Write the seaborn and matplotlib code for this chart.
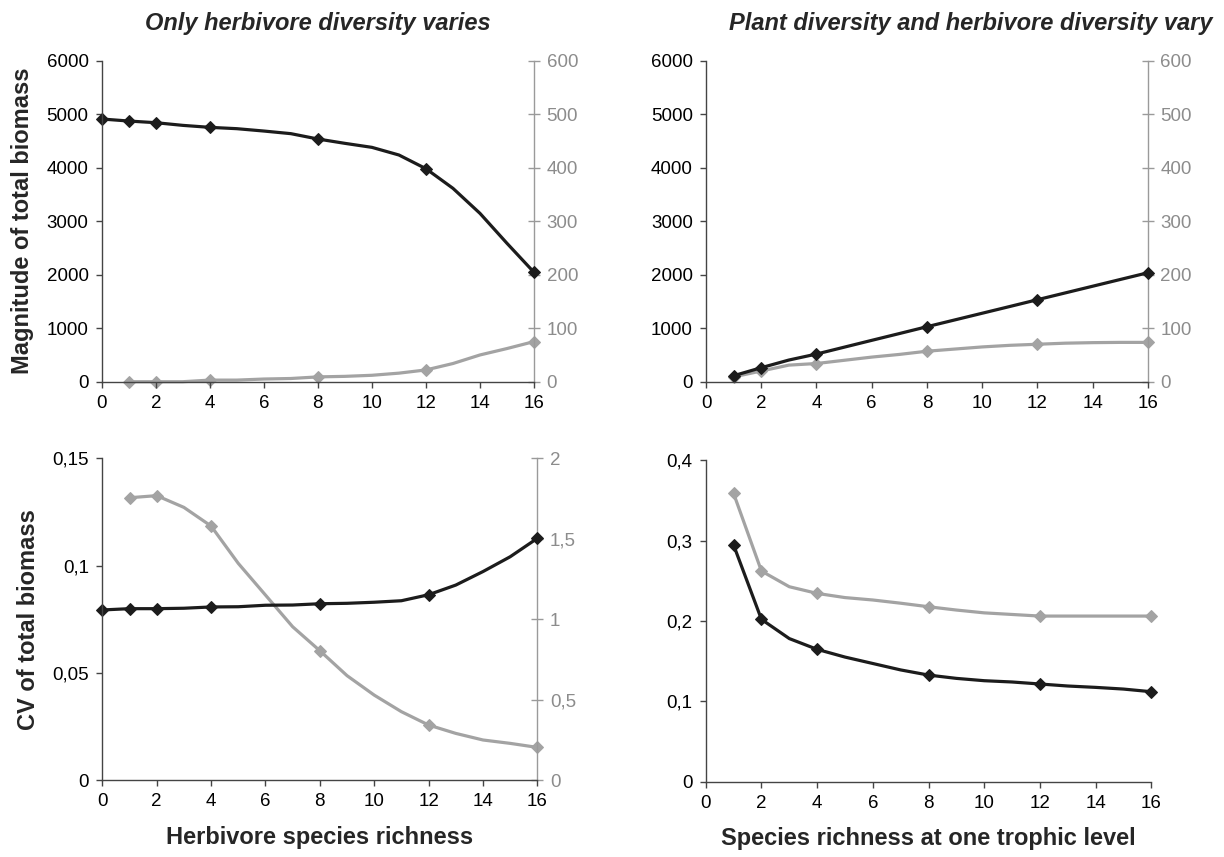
import matplotlib
matplotlib.use("Agg")
import matplotlib.pyplot as plt
import seaborn as sns
import numpy as np
import pandas as pd

sns.set_theme(style="white")
plt.rcParams['font.family'] = ['Liberation Sans', 'DejaVu Sans']

# ---------------- data ----------------
# Top-left: only herbivore diversity varies
tl_black_x = list(range(0, 17))
tl_black_y = [4910, 4872, 4841, 4791, 4754, 4729, 4685, 4636, 4536, 4455, 4380,
              4237, 3981, 3614, 3146, 2586, 2044]
tl_black_marks = [0, 1, 2, 4, 8, 12, 16]
tl_grey_x = list(range(1, 17))
tl_grey_y = [0, 0, 0, 3, 3, 5, 6, 9, 10, 12, 16, 22, 34, 50, 62, 75]
tl_grey_marks = [1, 2, 4, 8, 12, 16]

# Top-right: plant and herbivore diversity vary
tr_black_x = list(range(1, 17))
tr_black_y = [112, 262, 405, 517, 645, 773, 900, 1028, 1154, 1280, 1406, 1533,
              1659, 1785, 1911, 2037]
tr_black_marks = [1, 2, 4, 8, 12, 16]
tr_grey_x = list(range(1, 17))
tr_grey_y = [9, 20, 31, 34, 40, 46, 51, 57, 61, 65, 68, 70, 72, 73, 73.5, 73.5]
tr_grey_marks = [1, 2, 4, 8, 12, 16]

# Bottom-left: CV, only herbivore diversity varies
bl_black_x = list(range(0, 17))
bl_black_y = [0.0793, 0.0799, 0.0799, 0.0801, 0.0807, 0.0808, 0.0815, 0.0816,
              0.0822, 0.0824, 0.0829, 0.0836, 0.0864, 0.0909, 0.0972, 0.1041, 0.1127]
bl_black_marks = [0, 1, 2, 4, 8, 12, 16]
bl_grey_x = list(range(1, 17))
bl_grey_y = [1.755, 1.768, 1.695, 1.579, 1.347, 1.150, 0.953, 0.804, 0.649,
             0.528, 0.425, 0.342, 0.290, 0.249, 0.228, 0.203]
bl_grey_marks = [1, 2, 4, 8, 12, 16]

# Bottom-right: CV, plant and herbivore diversity vary
br_black_x = list(range(1, 17))
br_black_y = [0.2943, 0.2019, 0.178, 0.1646, 0.155, 0.147, 0.139, 0.1326, 0.1285,
              0.1256, 0.124, 0.1215, 0.119, 0.1173, 0.1152, 0.1119]
br_black_marks = [1, 2, 4, 8, 12, 16]
br_grey_x = list(range(1, 17))
br_grey_y = [0.3585, 0.262, 0.2425, 0.2342, 0.229, 0.226, 0.222, 0.2176, 0.2135,
             0.210, 0.208, 0.206, 0.206, 0.206, 0.206, 0.206]
br_grey_marks = [1, 2, 4, 8, 12, 16]

titles = ["Only herbivore diversity varies", "Plant diversity and herbivore diversity vary"]
ylabels = ["Magnitude of total biomass", "CV of total biomass"]
xlabels = ["Herbivore species richness", "Species richness at one trophic level"]

BLACK = "#1c1c1c"
GREY = "#a3a3a3"
SPINE = "#444444"
RSPINE = "#9a9a9a"
FS = 13.5
LFS = 17

fig = plt.figure(figsize=(12.24, 8.57), dpi=100)
pos = {
    "tl": [0.0831, 0.5546, 0.3532, 0.3746],
    "tr": [0.5768, 0.5546, 0.3611, 0.3746],
    "bl": [0.0836, 0.0898, 0.3554, 0.3754],
    "br": [0.5766, 0.0879, 0.3640, 0.3752],
}


def comma(v):
    return ("%g" % v).replace(".", ",")


def draw(ax, x, y, marks, color):
    idx = [x.index(m) for m in marks]
    df = pd.DataFrame({"x": x, "y": y})
    sns.lineplot(data=df, x="x", y="y", ax=ax, color=color, lw=2.3,
                 marker="D", markersize=6.5, markevery=idx, markeredgecolor=color,
                 markerfacecolor=color, solid_joinstyle="round", clip_on=False,
                 legend=False)
    ax.set_xlabel("")
    ax.set_ylabel("")


def style_left(ax, yticks, ylim):
    ax.set_xlim(0, 16)
    ax.set_ylim(*ylim)
    ax.set_xticks(range(0, 17, 2))
    ax.set_yticks(yticks)
    ax.set_yticklabels([comma(v) for v in yticks])
    for s in ["top", "right"]:
        ax.spines[s].set_visible(False)
    for s in ["left", "bottom"]:
        ax.spines[s].set_color(SPINE)
        ax.spines[s].set_linewidth(1.0)
    ax.tick_params(axis="both", direction="out", length=4.5, width=1.0, color=SPINE,
                   labelsize=FS, labelcolor="black", left=True, bottom=True, pad=5)


def style_right(ax2, yticks, ylim):
    ax2.set_ylim(*ylim)
    ax2.set_yticks(yticks)
    ax2.set_yticklabels([comma(v) for v in yticks])
    for s in ["top", "left", "bottom"]:
        ax2.spines[s].set_visible(False)
    ax2.spines["right"].set_color(RSPINE)
    ax2.spines["right"].set_linewidth(1.0)
    ax2.tick_params(axis="y", direction="inout", length=8, width=1.0, color=RSPINE,
                    labelsize=FS, labelcolor="#8c8c8c", right=True, pad=5)
    ax2.grid(False)


# Top-left
ax = fig.add_axes(pos["tl"])
ax2 = ax.twinx()
draw(ax2, tl_grey_x, tl_grey_y, tl_grey_marks, GREY)
draw(ax, tl_black_x, tl_black_y, tl_black_marks, BLACK)
ax.set_zorder(ax2.get_zorder() + 1)
ax.patch.set_visible(False)
style_left(ax, [0, 1000, 2000, 3000, 4000, 5000, 6000], (0, 6000))
style_right(ax2, [0, 100, 200, 300, 400, 500, 600], (0, 600))
ax.set_title(titles[0], fontsize=LFS, fontweight="bold", fontstyle="italic", pad=22)
ax.set_ylabel(ylabels[0], fontsize=LFS, fontweight="bold", labelpad=9)

# Top-right
ax = fig.add_axes(pos["tr"])
ax2 = ax.twinx()
draw(ax2, tr_grey_x, tr_grey_y, tr_grey_marks, GREY)
draw(ax, tr_black_x, tr_black_y, tr_black_marks, BLACK)
ax.set_zorder(ax2.get_zorder() + 1)
ax.patch.set_visible(False)
style_left(ax, [0, 1000, 2000, 3000, 4000, 5000, 6000], (0, 6000))
style_right(ax2, [0, 100, 200, 300, 400, 500, 600], (0, 600))
ax.set_title(titles[1], fontsize=LFS, fontweight="bold", fontstyle="italic", pad=22,
             x=0.6)

# Bottom-left
ax = fig.add_axes(pos["bl"])
ax2 = ax.twinx()
draw(ax2, bl_grey_x, bl_grey_y, bl_grey_marks, GREY)
draw(ax, bl_black_x, bl_black_y, bl_black_marks, BLACK)
ax.set_zorder(ax2.get_zorder() + 1)
ax.patch.set_visible(False)
style_left(ax, [0, 0.05, 0.1, 0.15], (0, 0.15))
style_right(ax2, [0, 0.5, 1, 1.5, 2], (0, 2))
ax.set_ylabel(ylabels[1], fontsize=LFS, fontweight="bold", labelpad=9)
ax.set_xlabel(xlabels[0], fontsize=LFS, fontweight="bold", labelpad=11)

# Bottom-right
ax = fig.add_axes(pos["br"])
draw(ax, br_grey_x, br_grey_y, br_grey_marks, GREY)
draw(ax, br_black_x, br_black_y, br_black_marks, BLACK)
style_left(ax, [0, 0.1, 0.2, 0.3, 0.4], (0, 0.4))
ax.set_xlabel(xlabels[1], fontsize=LFS, fontweight="bold", labelpad=11)

fig.savefig("out.png", dpi=100, facecolor="white")
